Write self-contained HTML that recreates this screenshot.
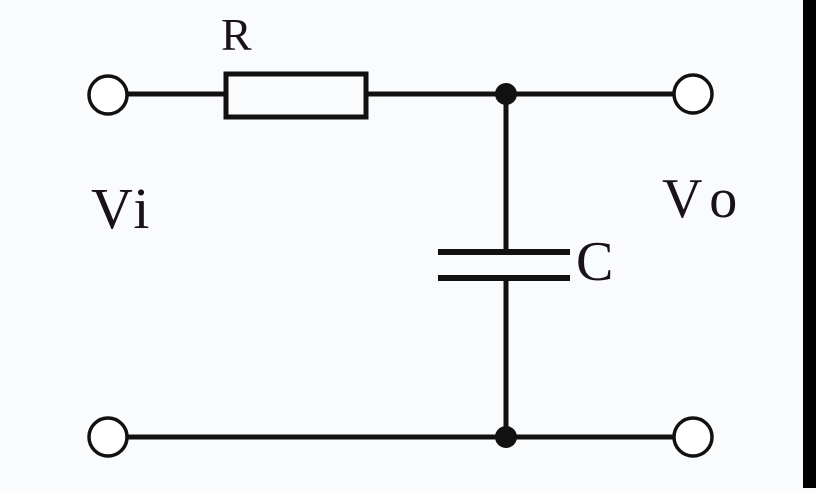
<!DOCTYPE html>
<html><head><style>
html,body{margin:0;padding:0;}
body{width:816px;height:488px;overflow:hidden;background:#fafbfd;}
text{font-family:"Liberation Serif",serif;fill:#1a1216;}
</style></head><body>
<svg width="816" height="488" viewBox="0 0 816 488" xmlns="http://www.w3.org/2000/svg">
<rect x="0" y="0" width="816" height="488" fill="#fafbfd"/>
<rect x="803" y="0" width="13" height="488" fill="#000"/>
<g stroke="#111" stroke-width="5" fill="none">
<line x1="127" y1="94" x2="226" y2="94"/>
<rect x="226" y="74" width="140" height="43"/>
<line x1="366" y1="94" x2="673" y2="94"/>
<line x1="506" y1="94" x2="506" y2="252"/>
<line x1="506" y1="278" x2="506" y2="437"/>
<line x1="438" y1="252" x2="570" y2="252" stroke-width="6"/>
<line x1="438" y1="278" x2="570" y2="278" stroke-width="6"/>
<line x1="127" y1="437" x2="673" y2="437"/>
<circle cx="108" cy="95" r="19" fill="#fff" stroke-width="3.5"/>
<circle cx="693" cy="94" r="19" fill="#fff" stroke-width="3.5"/>
<circle cx="108" cy="437" r="19" fill="#fff" stroke-width="3.5"/>
<circle cx="693" cy="437" r="19" fill="#fff" stroke-width="3.5"/>
</g>
<circle cx="506" cy="94" r="11" fill="#111"/>
<circle cx="506" cy="437" r="11" fill="#111"/>
<text x="221" y="50" font-size="46">R</text>
<text x="91" y="228" font-size="58" letter-spacing="4">Vi</text>
<text x="662" y="217" font-size="56" letter-spacing="14">Vo</text>
<text x="576" y="280" font-size="56">C</text>
</svg>
</body></html>
